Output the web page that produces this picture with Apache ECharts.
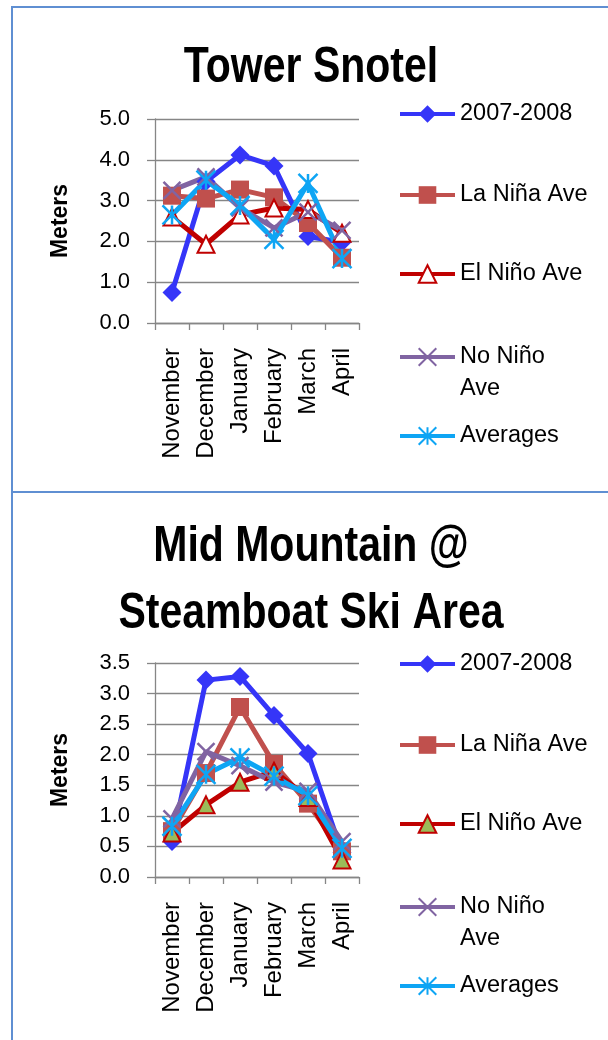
<!DOCTYPE html>
<html>
<head>
<meta charset="utf-8">
<title>Snow depth</title>
<script src="https://cdn.jsdelivr.net/npm/echarts@6/dist/echarts.min.js"></script>
<style>
  body { margin: 0; background: #fff; }
  #page { position: relative; width: 608px; height: 1040px; overflow: hidden; }
  #frame { position: absolute; left: 11px; top: 6px; width: 620px; height: 1060px;
           border-left: 2px solid #5f8fd2; border-top: 2px solid #5f8fd2; }
  #divider { position: absolute; left: 11px; top: 491px; width: 620px; height: 2px; background: #5f8fd2; }
  #top { position: absolute; left: 0; top: 0; width: 608px; height: 492px; }
  #bottom { position: absolute; left: 0; top: 492px; width: 608px; height: 548px; }
</style>
</head>
<body>
<div id="page">
  <div id="frame"></div>
  <div id="divider"></div>
  <div id="top"></div>
  <div id="bottom"></div>
</div>
<script>
// months on the x axis
const months = ['November', 'December', 'January', 'February', 'March', 'April']
const seriesNames = ['2007-2008', 'La Niña Ave', 'El Niño Ave', 'No Niño Ave', 'Averages']

// Tower Snotel (meters)
const snotel2007 = [0.75, 3.47, 4.12, 3.85, 2.12, 1.98]
const snotelLaNina = [3.12, 3.05, 3.27, 3.08, 2.45, 1.6]
const snotelElNino = [2.6, 1.93, 2.65, 2.82, 2.78, 2.2]
const snotelNoNino = [3.25, 3.58, 2.82, 2.33, 2.72, 2.27]
const snotelAvg = [2.65, 3.5, 2.88, 2.05, 3.42, 1.58]

// Mid Mountain @ Steamboat Ski Area (meters)
const mid2007 = [0.58, 3.22, 3.28, 2.64, 2.02, 0.4]
const midLaNina = [0.75, 1.7, 2.78, 1.85, 1.2, 0.42]
const midElNino = [0.72, 1.18, 1.55, 1.73, 1.3, 0.28]
const midNoNino = [0.95, 2.05, 1.82, 1.55, 1.4, 0.58]
const midAvg = [0.83, 1.68, 1.95, 1.65, 1.33, 0.47]

// y axis ticks
const snotelTicks = { min: 0, max: 5, interval: 1 }
const midTicks = { min: 0, max: 3.5, interval: 0.5 }

const FONT = "'Liberation Sans', Arial, sans-serif"
const GRID_GRAY = '#868686'

const xMark = 'path://M0,0L10,10M10,0L0,10'
const starMark = 'path://M0,0L10,10M10,0L0,10M5,0L5,10'

function line(name, data, color, symbol, size, itemStyle) {
  return {
    name: name,
    type: 'line',
    data: data,
    symbol: symbol,
    symbolSize: size,
    lineStyle: { color: color, width: 5 },
    itemStyle: itemStyle || { color: color },
    emphasis: { disabled: true },
    animation: false
  }
}

function legendItem(name, top, twoLines) {
  const lg = {
    data: [name],
    left: 398,
    top: top,
    orient: 'vertical',
    padding: 0,
    itemWidth: 55,
    itemHeight: 22,
    selectedMode: false,
    lineStyle: { width: 4 },
    textStyle: { fontFamily: FONT, fontSize: 23.5, color: '#000' }
  }
  if (twoLines) {
    // blank first line so "No Niño" sits level with the icon
    lg.formatter = '\nNo Niño\nAve'
    lg.textStyle.lineHeight = 32
  }
  return lg
}

function buildOption(cfg) {
  const yAxisTicks = cfg.ticks
  return {
    backgroundColor: 'transparent',
    graphic: [{
      type: 'text',
      x: 311,
      y: cfg.titleTop,
      scaleX: 0.82,
      silent: true,
      style: {
        text: cfg.title,
        fontFamily: FONT,
        fontWeight: 'bold',
        fontSize: 50,
        lineHeight: 67,
        fill: '#000',
        align: 'center',
        verticalAlign: 'top'
      }
    }],
    legend: [
      legendItem(seriesNames[0], cfg.legendTops[0]),
      legendItem(seriesNames[1], cfg.legendTops[1]),
      legendItem(seriesNames[2], cfg.legendTops[2]),
      legendItem(seriesNames[3], cfg.legendTops[3], true),
      legendItem(seriesNames[4], cfg.legendTops[4])
    ],
    grid: { left: 155, top: cfg.gridTop, width: 204, height: cfg.gridHeight },
    xAxis: {
      type: 'category',
      data: months,
      boundaryGap: true,
      axisLine: { lineStyle: { color: GRID_GRAY, width: 1.3 } },
      axisTick: { show: true, length: 7, lineStyle: { color: GRID_GRAY, width: 1.3 } },
      axisLabel: { rotate: 90, interval: 0, margin: 25, fontFamily: FONT, fontSize: 24, color: '#000' }
    },
    yAxis: {
      type: 'value',
      min: yAxisTicks.min,
      max: yAxisTicks.max,
      interval: yAxisTicks.interval,
      name: 'Meters',
      nameLocation: 'middle',
      nameRotate: 90,
      nameGap: 83,
      nameTextStyle: { fontFamily: FONT, fontWeight: 'bold', fontSize: 23, color: '#000' },
      axisLine: { show: true, lineStyle: { color: GRID_GRAY, width: 1.3 } },
      axisTick: { show: true, length: 8, lineStyle: { color: GRID_GRAY, width: 1.3 } },
      axisLabel: {
        margin: 25, fontFamily: FONT, fontSize: 22, color: '#000',
        formatter: function (v) { return v.toFixed(1) }
      },
      splitLine: { lineStyle: { color: GRID_GRAY, width: 1.3 } }
    },
    series: [
      line(seriesNames[0], cfg.data[0], '#3535f8', 'diamond', 19),
      line(seriesNames[1], cfg.data[1], '#c0504d', 'rect', 18),
      line(seriesNames[2], cfg.data[2], '#c00000', 'triangle', 17, cfg.elNinoStyle),
      line(seriesNames[3], cfg.data[3], '#8064a2', xMark, 17,
        { color: 'rgba(0,0,0,0)', borderColor: '#8064a2', borderWidth: 2.5 }),
      line(seriesNames[4], cfg.data[4], '#0ea5f4', starMark, 19,
        { color: 'rgba(0,0,0,0)', borderColor: '#0ea5f4', borderWidth: 2.5 })
    ]
  }
}

const topChart = echarts.init(document.getElementById('top'), null, { renderer: 'canvas' })
topChart.setOption(buildOption({
  title: 'Tower Snotel',
  titleTop: 35,
  ticks: snotelTicks,
  gridTop: 119,
  gridHeight: 204,
  legendTops: [102, 183, 262, 309, 424],
  data: [snotel2007, snotelLaNina, snotelElNino, snotelNoNino, snotelAvg],
  elNinoStyle: { color: '#ffffff', borderColor: '#c00000', borderWidth: 2 }
}))

const bottomChart = echarts.init(document.getElementById('bottom'), null, { renderer: 'canvas' })
bottomChart.setOption(buildOption({
  title: 'Mid Mountain @\nSteamboat Ski Area',
  titleTop: 22,
  ticks: midTicks,
  gridTop: 171,
  gridHeight: 214,
  legendTops: [160, 241, 320, 367, 482],
  data: [mid2007, midLaNina, midElNino, midNoNino, midAvg],
  elNinoStyle: { color: '#9bbb59', borderColor: '#c00000', borderWidth: 2 }
}))
</script>
</body>
</html>
